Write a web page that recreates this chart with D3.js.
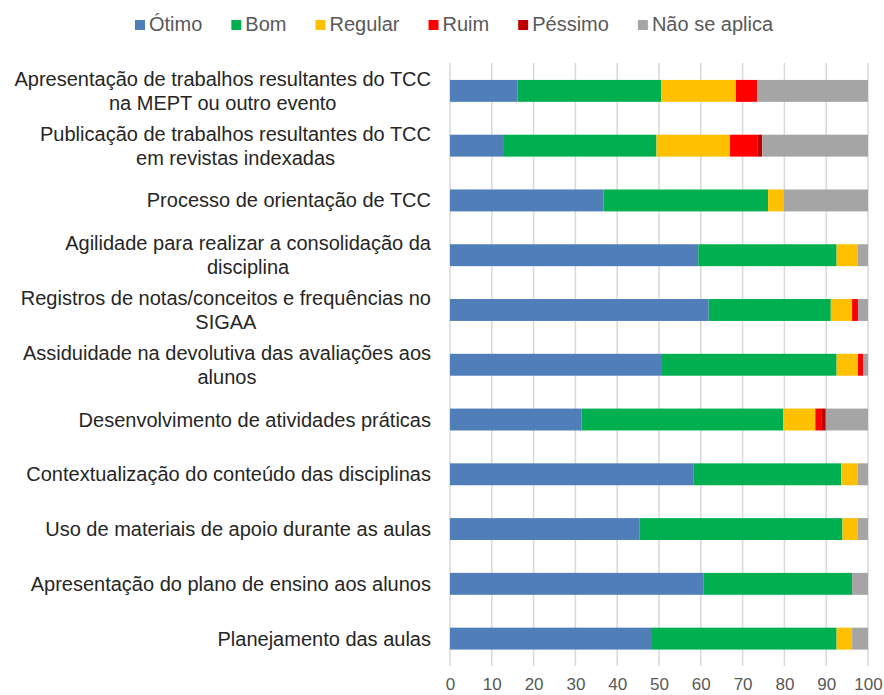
<!DOCTYPE html>
<html lang="pt">
    <head>
        <meta charset="utf-8">
        <title>Avaliação</title>
        <script type="text/javascript" src="https://cdn.jsdelivr.net/npm/d3@7"></script>
        <style type="text/css">
            body { margin: 0; background: #fff; }
            text { font-family: "Liberation Sans", Arial, sans-serif; }
        </style>
    </head>
    <body>
        <script type="text/javascript">

            //Categories, top to bottom
            var categories = [
                "Apresentação de trabalhos resultantes do TCC|na MEPT ou outro evento",
                "Publicação de trabalhos resultantes do TCC|em revistas indexadas",
                "Processo de orientação de TCC",
                "Agilidade para realizar a consolidação da|disciplina",
                "Registros de notas/conceitos e frequências no|SIGAA",
                "Assiduidade na devolutiva das avaliações aos|alunos",
                "Desenvolvimento de atividades práticas",
                "Contextualização do conteúdo das disciplinas",
                "Uso de materiais de apoio durante as aulas",
                "Apresentação do plano de ensino aos alunos",
                "Planejamento das aulas"
            ];

            //Series values (%)
            var otimo     = [16.2, 12.7, 36.7, 59.4, 61.9, 50.5, 31.5, 58.2, 45.4, 60.7, 48.1];
            var bom       = [34.3, 36.7, 39.4, 33.1, 29.2, 42.0, 48.2, 35.4, 48.5, 35.5, 44.4];
            var regular   = [17.9, 17.6,  3.7,  5.1,  5.1,  5.1,  7.7,  4.0,  3.7,  0.0,  3.7];
            var ruim      = [ 5.1,  6.5,  0.0,  0.0,  1.4,  1.3,  1.4,  0.0,  0.0,  0.0,  0.0];
            var pessimo   = [ 0.0,  1.2,  0.0,  0.0,  0.0,  0.0,  1.1,  0.0,  0.0,  0.0,  0.0];
            var naoAplica = [26.5, 25.3, 20.2,  2.4,  2.4,  1.1, 10.1,  2.4,  2.4,  3.8,  3.8];

            var seriesNames = ["Ótimo", "Bom", "Regular", "Ruim", "Péssimo", "Não se aplica"];
            var seriesValues = [otimo, bom, regular, ruim, pessimo, naoAplica];
            var colors = ["#4F7EB9", "#00B050", "#FFC000", "#FF0000", "#C00000", "#A5A5A5"];
            var xTicks = [0, 10, 20, 30, 40, 50, 60, 70, 80, 90, 100];

            //Width and height
            var w = 884;
            var h = 695;

            var svg = d3.select("body")
                        .append("svg")
                        .attr("width", w)
                        .attr("height", h);

            //Build rows for the stack
            var rows = categories.map(function(c, i) {
                var r = { cat: c };
                seriesNames.forEach(function(s, j) { r[s] = seriesValues[j][i]; });
                return r;
            });

            var stack = d3.stack().keys(seriesNames)(rows);

            var x = d3.scaleLinear().domain([0, 100]).range([450, 868]);
            var y = d3.scaleBand().domain(categories).range([63.5, 666]).paddingInner(0.6).paddingOuter(0.3);

            //Gridlines
            svg.append("g")
                .selectAll("line")
                .data(xTicks)
                .enter()
                .append("line")
                .attr("x1", function(d) { return x(d); })
                .attr("x2", function(d) { return x(d); })
                .attr("y1", 63)
                .attr("y2", 666)
                .style("stroke", "#d9d9d9")
                .style("stroke-width", 1.5);

            //Bars
            svg.append("g")
                .selectAll("g")
                .data(stack)
                .enter()
                .append("g")
                .style("fill", function(d, i) { return colors[i]; })
                .selectAll("rect")
                .data(function(d) { return d; })
                .enter()
                .append("rect")
                .attr("x", function(d) { return x(d[0]); })
                .attr("width", function(d) { return x(d[1]) - x(d[0]); })
                .attr("y", function(d) { return y(d.data.cat); })
                .attr("height", y.bandwidth());

            //X axis
            var xAxis = svg.append("g")
                .attr("transform", "translate(0,666)")
                .call(d3.axisBottom(x).tickValues(xTicks).tickSize(0).tickPadding(12));
            xAxis.select(".domain").remove();
            xAxis.selectAll("text")
                .style("font-size", "17px")
                .style("fill", "#595959")
                .style("font-family", "'Liberation Sans', Arial, sans-serif");

            //Category labels (multi-line blocks centred on their widest line, right aligned)
            var labelRight = 431;
            var lineH = 24;
            categories.forEach(function(c) {
                var lines = c.split("|");
                var cy = y(c) + y.bandwidth() / 2;
                var g = svg.append("g");
                var texts = lines.map(function(l, i) {
                    return g.append("text")
                        .attr("y", cy + (i - (lines.length - 1) / 2) * lineH + 7)
                        .style("font-size", "20px")
                        .style("fill", "#262626")
                        .attr("text-anchor", "middle")
                        .text(l);
                });
                var maxW = d3.max(texts, function(t) { return t.node().getComputedTextLength(); });
                texts.forEach(function(t) { t.attr("x", labelRight - maxW / 2); });
            });

            //Legend
            var legend = svg.append("g");
            var lx = 135;
            seriesNames.forEach(function(s, i) {
                legend.append("rect")
                    .attr("x", lx)
                    .attr("y", 20)
                    .attr("width", 10)
                    .attr("height", 10)
                    .style("fill", colors[i]);
                var t = legend.append("text")
                    .attr("x", lx + 14)
                    .attr("y", 31)
                    .style("font-size", "20px")
                    .style("fill", "#595959")
                    .text(s);
                lx += 14 + t.node().getComputedTextLength() + 29;
            });

        </script>
    </body>
</html>
